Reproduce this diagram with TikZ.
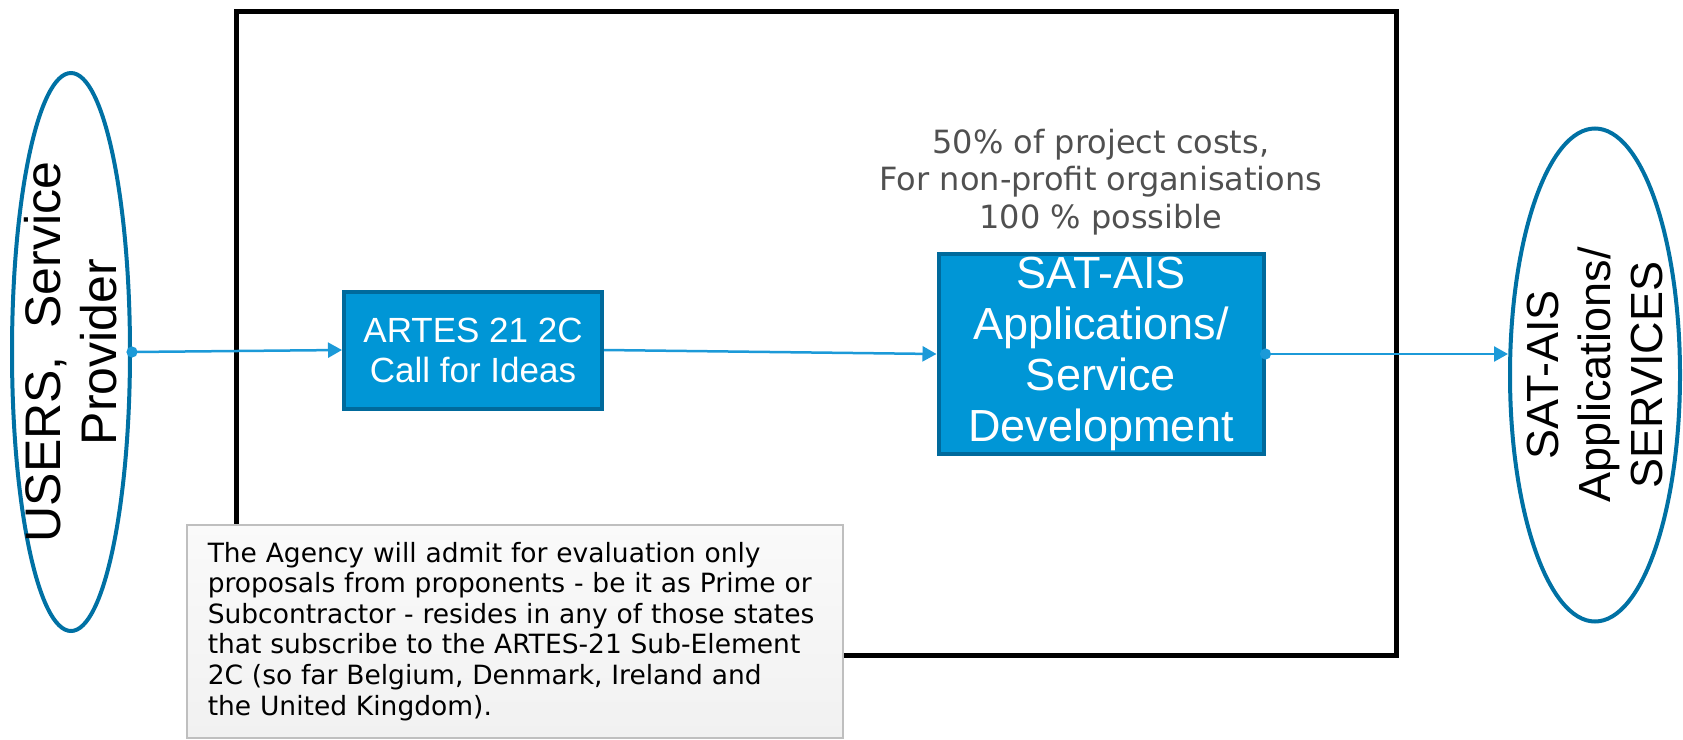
\documentclass[tikz,border=0pt]{standalone}
\usepackage{fontspec}
\setmainfont{Liberation Sans}
\newfontfamily\notefont{DejaVu Sans}
\usetikzlibrary{arrows.meta}
\usetikzlibrary{shapes}
\usetikzlibrary{positioning}
\usepackage{xcolor}
\definecolor{ringblue}{HTML}{0071A4}
\definecolor{boxblue}{HTML}{0096D6}
\definecolor{boxedge}{HTML}{006A9C}
\definecolor{flowblue}{HTML}{1C9AD8}
\definecolor{costgray}{HTML}{505050}

\begin{document}
\begin{tikzpicture}[x=1pt,y=-1pt]
                \tikzstyle{ring}=[draw=ringblue, line width=4pt, ellipse, inner sep=0pt]
                \tikzstyle{ringtext}=[rotate=90, align=center, inner sep=0pt]
                \tikzstyle{stage}=[draw=boxedge, fill=boxblue, line width=4pt, text=white, align=center, inner sep=0pt]
                \tikzstyle{flow}=[draw=flowblue, line width=2.5pt, -{Triangle[length=14pt,width=15pt]}]
                \tikzstyle{dotflow}=[flow, {Circle[length=11pt]}-{Triangle[length=14pt,width=15pt]}, shorten <=-5.5pt]
                \useasboundingbox (0,0) rectangle (1683,739);

                \node[draw, line width=5pt, minimum width=1160pt, minimum height=644pt, inner sep=0pt] (frame) at (816,333) {};

                \node[ring, minimum width=118pt, minimum height=558pt] (users) at (71,352) {};
                \node[ringtext, font=\fontsize{50}{56}\selectfont] (userstext) at (users) {USERS,~~Service\\Provider};

                \node[ring, minimum width=170pt, minimum height=493pt] (services) at (1595,375) {};
                \node[ringtext, font=\fontsize{45}{52}\selectfont] (servicestext) at (services) {SAT-AIS\\Applications/\\SERVICES};

                \node[stage, minimum width=258pt, minimum height=117pt, font=\fontsize{35}{40}\selectfont] (artes) at (473,350) {ARTES 21 2C\\Call for Ideas};
                \node[stage, minimum width=325pt, minimum height=200pt, font=\fontsize{45}{50.7}\selectfont] (sat) at (1101,354) {SAT-AIS\\Applications/\\Service\\Development};

                \node[above=17pt of sat, align=center, inner sep=0pt, text=costgray, font=\notefont\fontsize{32}{37.5}\selectfont] (costs) {50\% of project costs,\\For non-profit organisations\\100 \% possible};

                \draw[dotflow] (users.east) -- (artes.west);
                \draw[flow] (artes.east) -- (sat.west);
                \draw[dotflow] (sat.east) -- (sat.east -| services.west);

                \node[anchor=north west, draw=gray!50, line width=1.5pt, top color=gray!4, bottom color=gray!11, text width=614pt, inner xsep=21pt, inner ysep=0pt, minimum height=213pt, align=left, font=\notefont\fontsize{26.5}{30.6}\selectfont] (note) at (186,524) {The Agency will admit for evaluation only\\proposals from proponents - be it as Prime or\\Subcontractor - resides in any of those states\\that subscribe to the ARTES-21 Sub-Element\\2C (so far Belgium, Denmark, Ireland and\\the United Kingdom).};
            \end{tikzpicture}
\end{document}
